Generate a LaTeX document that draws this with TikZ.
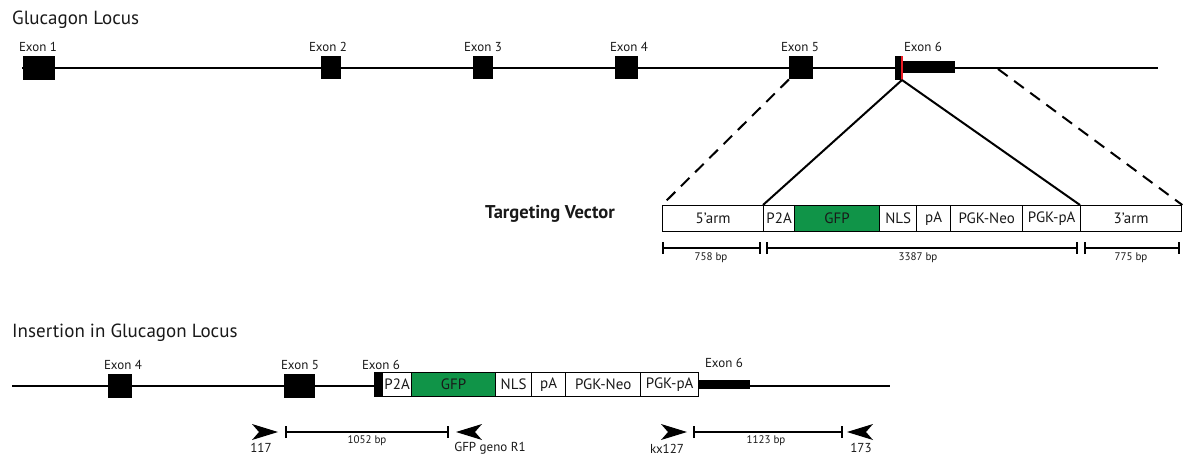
\documentclass[tikz,border=0pt]{standalone}
\usepackage{fontspec}
\setmainfont{PT Sans}
\usetikzlibrary{arrows.meta}
\definecolor{gfpgreen}{RGB}{16,148,72}
\definecolor{exred}{RGB}{237,28,36}
\definecolor{txt}{RGB}{25,25,25}
\begin{document}
\begin{tikzpicture}[x=1pt,y=-1pt,
  every node/.style={text=txt},
  seg/.style={draw=black, line width=1.3pt, fill=white, inner sep=0pt, anchor=north west, font=\fontsize{15}{15}\selectfont},
  blk/.style={fill=black, inner sep=0pt, anchor=north west},
  lbl/.style={font=\fontsize{13}{13}\selectfont, inner sep=0pt},
  bplbl/.style={font=\fontsize{11}{11}\selectfont, inner sep=0pt},
  prlbl/.style={font=\fontsize{13}{13}\selectfont, inner sep=0pt},
  title/.style={font=\fontsize{19}{19}\selectfont, inner sep=0pt, anchor=base west},
  locus/.style={line width=2pt},
  dashconn/.style={line width=2pt, dash pattern=on 12pt off 8pt},
  solconn/.style={line width=2pt},
  sbar/.style={line width=1.8pt, {Bar[width=12pt,line width=1.8pt]}-{Bar[width=12pt,line width=1.8pt]}},
  primer/.style={fill=black}
]
\useasboundingbox (0,0) rectangle (1186,459);

% ---------- Glucagon locus ----------
\node[title] (t1) at (12,24) {Glucagon Locus};
\coordinate (L0) at (22,68);
\coordinate (L1) at (1158,68);
\draw[locus] (L0) -- (L1);

\node[blk, minimum width=32pt, minimum height=24pt] (e1) at (23,56) {};
\node[blk, minimum width=20pt, minimum height=23pt] (e2) at (321,56) {};
\node[blk, minimum width=20pt, minimum height=23pt] (e3) at (473,56) {};
\node[blk, minimum width=23pt, minimum height=23pt] (e4) at (615,56) {};
\node[blk, minimum width=24pt, minimum height=23pt] (e5) at (789,56) {};
\node[blk, minimum width=6pt, minimum height=24pt] (e6a) at (895,56) {};
\node[blk, minimum width=52pt, minimum height=12pt] (e6b) at (903,61) {};
\coordinate (r0) at (902,56);
\coordinate (r1) at (902,80);
\draw[exred, line width=2pt] (r0) -- (r1);

\node[lbl] (le1) at (38,47) {Exon 1};
\node[lbl] (le2) at (328,47) {Exon 2};
\node[lbl] (le3) at (483,47) {Exon 3};
\node[lbl] (le4) at (629,47) {Exon 4};
\node[lbl] (le5) at (800,47) {Exon 5};
\node[lbl] (le6) at (923,47) {Exon 6};

% ---------- Targeting vector ----------
\node[font=\fontsize{18.5}{18.5}\selectfont\bfseries, inner sep=0pt] (tv) at (550,214) {Targeting Vector};

\node[seg, minimum width=101pt, minimum height=26pt] (a5) at (662,205) {5’arm};
\node[seg, minimum width=31pt, minimum height=26pt] (p2a) at (763,205) {P2A};
\node[seg, minimum width=85pt, minimum height=26pt, fill=gfpgreen] (gfp) at (794,205) {GFP};
\node[seg, minimum width=37pt, minimum height=26pt] (nls) at (879,205) {NLS};
\node[seg, minimum width=34pt, minimum height=26pt] (pa) at (916,205) {pA};
\node[seg, minimum width=72pt, minimum height=26pt] (neo) at (950,205) {PGK-Neo};
\node[seg, minimum width=58pt, minimum height=26pt] (pgkpa) at (1022,205) {PGK-pA};
\node[seg, minimum width=101pt, minimum height=26pt] (a3) at (1080,205) {3’arm};

\coordinate (d0) at (998,69);
\draw[dashconn] (e5.south west) -- (a5.north west);
\draw[dashconn] (d0) -- (a3.north east);
\draw[solconn] (r1) -- (p2a.north west);
\draw[solconn] (r1) -- (a3.north west);

\coordinate (s1a) at (662,248); \coordinate (s1b) at (761,248);
\coordinate (s2a) at (766,248); \coordinate (s2b) at (1078,248);
\coordinate (s3a) at (1084,248); \coordinate (s3b) at (1180,248);
\draw[sbar] (s1a) -- (s1b);
\draw[sbar] (s2a) -- (s2b);
\draw[sbar] (s3a) -- (s3b);
\node[bplbl] (bp1) at (711,258) {758 bp};
\node[bplbl] (bp2) at (918,258) {3387 bp};
\node[bplbl] (bp3) at (1131,258) {775 bp};

% ---------- Insertion ----------
\node[title] (t2) at (12,337) {Insertion in Glucagon Locus};
\coordinate (M0) at (12,386);
\coordinate (M1) at (890,386);
\draw[locus] (M0) -- (M1);

\node[blk, minimum width=24pt, minimum height=24pt] (f4) at (108,374) {};
\node[blk, minimum width=31pt, minimum height=24pt] (f5) at (284,374) {};
\node[blk, minimum width=8pt, minimum height=25pt] (f6a) at (374,372) {};
\node[seg, minimum width=29pt, minimum height=24pt] (q2a) at (382,372) {P2A};
\node[seg, minimum width=84pt, minimum height=24pt, fill=gfpgreen] (qgfp) at (411,372) {GFP};
\node[seg, minimum width=36pt, minimum height=24pt] (qnls) at (495,372) {NLS};
\node[seg, minimum width=34pt, minimum height=24pt] (qpa) at (531,372) {pA};
\node[seg, minimum width=75pt, minimum height=24pt] (qneo) at (565,372) {PGK-Neo};
\node[seg, minimum width=58pt, minimum height=24pt] (qpgk) at (640,372) {PGK-pA};
\node[blk, minimum width=52pt, minimum height=9pt] (f6b) at (698,380) {};

\node[lbl] (lf4) at (123,365) {Exon 4};
\node[lbl] (lf5) at (300,365) {Exon 5};
\node[lbl] (lf6) at (381,365) {Exon 6};
\node[lbl] (lf6b) at (724,363) {Exon 6};

% primers
\coordinate (pr1) at (278,432);
\coordinate (pr2) at (456,432);
\coordinate (pr3) at (687,432);
\coordinate (pr4) at (847,432);
\fill[primer] (pr1) -- ++(-26,-8) -- ++(7,8) -- ++(-7,8) -- cycle;
\fill[primer] (pr2) -- ++(26,-8) -- ++(-7,8) -- ++(7,8) -- cycle;
\fill[primer] (pr3) -- ++(-26,-8) -- ++(7,8) -- ++(-7,8) -- cycle;
\fill[primer] (pr4) -- ++(26,-8) -- ++(-7,8) -- ++(7,8) -- cycle;
\node[prlbl] (n117) at (261,448) {117};
\node[prlbl] (ngfp) at (490,448) {GFP geno R1};
\node[prlbl] (nkx) at (667,449) {kx127};
\node[prlbl] (n173) at (861,448) {173};

\coordinate (u1a) at (285,432); \coordinate (u1b) at (449,432);
\coordinate (u2a) at (693,432); \coordinate (u2b) at (843,432);
\draw[sbar] (u1a) -- (u1b);
\draw[sbar] (u2a) -- (u2b);
\node[bplbl] (bp4) at (367,441) {1052 bp};
\node[bplbl] (bp5) at (766,441) {1123 bp};
\end{tikzpicture}
\end{document}
